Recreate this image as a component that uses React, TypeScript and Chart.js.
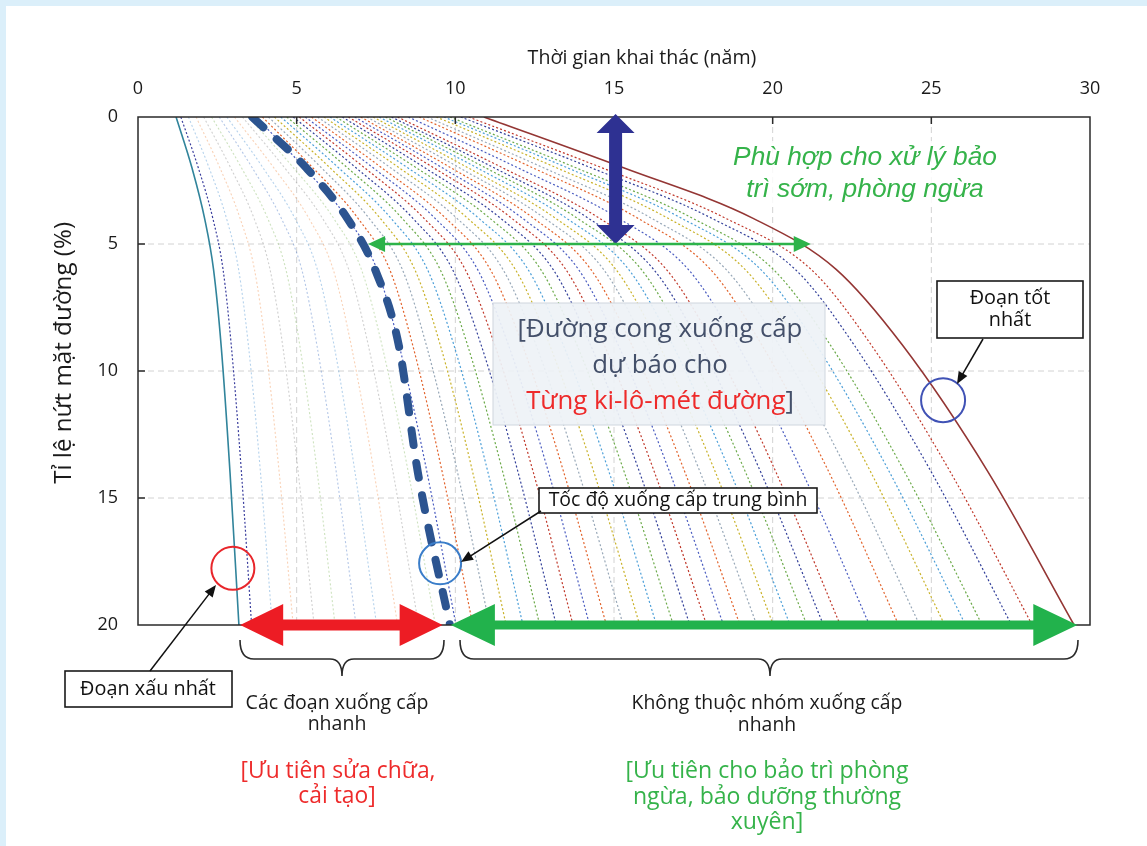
import React, { useEffect, useRef } from 'react';
import { Chart, registerables } from 'chart.js';

Chart.register(...registerables);

// Crack ratio levels (%) at which each road section's age (years) is read
const crackLevels = [0, 2, 4, 6, 9, 14, 20];
const yearTicks = [0, 5, 10, 15, 20, 25, 30];
const crackTicks = [0, 5, 10, 15, 20];

const worstSection = [1.2, 1.7, 2.1, 2.38, 2.62, 2.9, 3.18];
const nearWorstSection = [1.35, 1.9, 2.36, 2.68, 2.94, 3.26, 3.58];
const averageCurve = [3.6, 5.3, 6.6, 7.47, 8.22, 8.82, 9.83];
const bestSection = [10.9, 15.3, 19.4, 22.0, 24.1, 26.8, 29.5];

const fastSections = [
  [1.59, 2.24, 2.79, 3.17, 3.48, 3.86, 4.23],
  [1.83, 2.58, 3.22, 3.67, 4.02, 4.45, 4.89],
  [2.07, 2.92, 3.66, 4.16, 4.56, 5.05, 5.55],
  [2.32, 3.26, 4.09, 4.66, 5.1, 5.65, 6.21],
  [2.56, 3.6, 4.52, 5.16, 5.64, 6.25, 6.87],
  [2.8, 3.94, 4.95, 5.65, 6.18, 6.84, 7.52],
  [3.04, 4.28, 5.39, 6.15, 6.72, 7.44, 8.18],
  [3.29, 4.62, 5.82, 6.64, 7.26, 8.04, 8.84],
  [3.48, 4.9, 6.17, 7.04, 7.69, 8.52, 9.37],
];

const otherSections = [
  [3.72, 5.24, 6.6, 7.53, 8.23, 9.11, 10.02],
  [3.92, 5.51, 6.94, 7.93, 8.66, 9.59, 10.55],
  [4.11, 5.78, 7.29, 8.33, 9.09, 10.07, 11.08],
  [4.3, 6.05, 7.64, 8.72, 9.53, 10.55, 11.6],
  [4.5, 6.32, 7.98, 9.12, 9.96, 11.03, 12.13],
  [4.69, 6.6, 8.33, 9.52, 10.39, 11.5, 12.66],
  [4.89, 6.87, 8.67, 9.91, 10.82, 11.98, 13.18],
  [5.08, 7.14, 9.02, 10.31, 11.25, 12.46, 13.71],
  [5.27, 7.41, 9.37, 10.7, 11.68, 12.94, 14.23],
  [5.47, 7.68, 9.71, 11.1, 12.12, 13.42, 14.76],
  [5.66, 7.96, 10.06, 11.5, 12.55, 13.89, 15.29],
  [5.86, 8.23, 10.4, 11.89, 12.98, 14.37, 15.81],
  [6.05, 8.5, 10.75, 12.29, 13.41, 14.85, 16.34],
  [6.24, 8.77, 11.1, 12.69, 13.84, 15.33, 16.87],
  [6.44, 9.04, 11.44, 13.08, 14.27, 15.81, 17.39],
  [6.63, 9.32, 11.79, 13.48, 14.7, 16.28, 17.92],
  [6.83, 9.59, 12.13, 13.88, 15.14, 16.76, 18.45],
  [7.02, 9.86, 12.48, 14.27, 15.57, 17.24, 18.97],
  [7.21, 10.13, 12.83, 14.67, 16.0, 17.72, 19.5],
  [7.41, 10.4, 13.17, 15.06, 16.43, 18.2, 20.02],
  [7.6, 10.68, 13.52, 15.46, 16.86, 18.67, 20.55],
  [7.8, 10.95, 13.86, 15.86, 17.29, 19.15, 21.08],
  [7.99, 11.22, 14.21, 16.25, 17.73, 19.63, 21.6],
  [8.18, 11.49, 14.56, 16.65, 18.16, 20.11, 22.13],
  [8.52, 11.97, 15.16, 17.34, 18.91, 20.94, 23.05],
  [8.86, 12.44, 15.77, 18.04, 19.67, 21.78, 23.97],
  [9.11, 12.78, 16.2, 18.53, 20.21, 22.38, 24.63],
  [9.4, 13.19, 16.72, 19.13, 20.86, 23.1, 25.42],
  [9.64, 13.53, 17.15, 19.62, 21.39, 23.69, 26.08],
  [9.83, 13.8, 17.5, 20.02, 21.83, 24.17, 26.6],
  [10.17, 14.28, 18.1, 20.71, 22.58, 25.01, 27.53],
  [10.42, 14.62, 18.54, 21.21, 23.12, 25.61, 28.18],
];

const palette = ['#4a5cc0', '#e2632c', '#98a8b8', '#c9b22a', '#4c9fd8', '#6caa4a', '#33409a', '#c0392b'];
const fadedPalette = [
  'rgba(91,155,213,0.45)',
  'rgba(237,125,49,0.35)',
  'rgba(150,150,150,0.45)',
  'rgba(112,173,71,0.35)',
  'rgba(68,114,196,0.4)',
];

const SANS = '"Open Sans", "Noto Sans", sans-serif';
const ITAL = '"Liberation Sans", Arial, sans-serif';

function fitSize(ctx: CanvasRenderingContext2D, text: string, width: number, family: string, style = '') {
  ctx.font = `${style} 20px ${family}`;
  return (20 * width) / ctx.measureText(text).width;
}

function drawText(
  ctx: CanvasRenderingContext2D,
  text: string,
  x: number,
  y: number,
  size: number,
  family: string,
  color: string,
  style = '',
  align: CanvasTextAlign = 'center'
) {
  ctx.font = `${style} ${size}px ${family}`;
  ctx.fillStyle = color;
  ctx.textAlign = align;
  ctx.textBaseline = 'middle';
  ctx.fillText(text, x, y);
}

function lineArrow(
  ctx: CanvasRenderingContext2D,
  x1: number,
  y1: number,
  x2: number,
  y2: number,
  color: string,
  lw: number,
  len: number,
  half: number,
  both = false
) {
  const a = Math.atan2(y2 - y1, x2 - x1);
  const c = Math.cos(a);
  const s = Math.sin(a);
  ctx.setLineDash([]);
  ctx.strokeStyle = color;
  ctx.fillStyle = color;
  ctx.lineWidth = lw;
  ctx.beginPath();
  ctx.moveTo(both ? x1 + c * len * 0.8 : x1, both ? y1 + s * len * 0.8 : y1);
  ctx.lineTo(x2 - c * len * 0.8, y2 - s * len * 0.8);
  ctx.stroke();
  const head = (tx: number, ty: number, dc: number, ds: number) => {
    ctx.beginPath();
    ctx.moveTo(tx, ty);
    ctx.lineTo(tx - dc * len - ds * half, ty - ds * len + dc * half);
    ctx.lineTo(tx - dc * len + ds * half, ty - ds * len - dc * half);
    ctx.closePath();
    ctx.fill();
  };
  head(x2, y2, c, s);
  if (both) head(x1, y1, -c, -s);
}

function fatArrowH(ctx: CanvasRenderingContext2D, xL: number, xR: number, y: number, hl: number, hh: number, sh: number, color: string) {
  ctx.fillStyle = color;
  ctx.beginPath();
  ctx.moveTo(xL, y);
  ctx.lineTo(xL + hl, y - hh);
  ctx.lineTo(xL + hl, y - sh);
  ctx.lineTo(xR - hl, y - sh);
  ctx.lineTo(xR - hl, y - hh);
  ctx.lineTo(xR, y);
  ctx.lineTo(xR - hl, y + hh);
  ctx.lineTo(xR - hl, y + sh);
  ctx.lineTo(xL + hl, y + sh);
  ctx.lineTo(xL + hl, y + hh);
  ctx.closePath();
  ctx.fill();
}

function fatArrowV(ctx: CanvasRenderingContext2D, x: number, yT: number, yB: number, hl: number, hh: number, sh: number, color: string) {
  ctx.fillStyle = color;
  ctx.beginPath();
  ctx.moveTo(x, yT);
  ctx.lineTo(x + hh, yT + hl);
  ctx.lineTo(x + sh, yT + hl);
  ctx.lineTo(x + sh, yB - hl);
  ctx.lineTo(x + hh, yB - hl);
  ctx.lineTo(x, yB);
  ctx.lineTo(x - hh, yB - hl);
  ctx.lineTo(x - sh, yB - hl);
  ctx.lineTo(x - sh, yT + hl);
  ctx.lineTo(x - hh, yT + hl);
  ctx.closePath();
  ctx.fill();
}

function brace(ctx: CanvasRenderingContext2D, x1: number, x2: number, cx: number, yTop: number, yMid: number, yTip: number) {
  ctx.setLineDash([]);
  ctx.strokeStyle = '#2a2a2a';
  ctx.lineWidth = 1.6;
  ctx.beginPath();
  ctx.moveTo(x1, yTop);
  ctx.quadraticCurveTo(x1, yMid, x1 + 14, yMid);
  ctx.lineTo(cx - 12, yMid);
  ctx.quadraticCurveTo(cx, yMid, cx, yTip);
  ctx.quadraticCurveTo(cx, yMid, cx + 12, yMid);
  ctx.lineTo(x2 - 14, yMid);
  ctx.quadraticCurveTo(x2, yMid, x2, yTop);
  ctx.stroke();
}

function circle(ctx: CanvasRenderingContext2D, x: number, y: number, r: number, color: string) {
  ctx.setLineDash([]);
  ctx.strokeStyle = color;
  ctx.lineWidth = 2;
  ctx.beginPath();
  ctx.arc(x, y, r, 0, Math.PI * 2);
  ctx.stroke();
}

function box(ctx: CanvasRenderingContext2D, x: number, y: number, w: number, h: number) {
  ctx.setLineDash([]);
  ctx.fillStyle = '#ffffff';
  ctx.fillRect(x, y, w, h);
  ctx.strokeStyle = '#1a1a1a';
  ctx.lineWidth = 1.6;
  ctx.strokeRect(x, y, w, h);
}

const overlay = {
  id: 'overlay',
  beforeDatasetsDraw(chart: any) {
    const ctx: CanvasRenderingContext2D = chart.ctx;
    const xs = chart.scales.x;
    const ys = chart.scales.y;
    const { left, right, top, bottom } = chart.chartArea;
    ctx.save();
    ctx.strokeStyle = '#d2d2d2';
    ctx.lineWidth = 1;
    ctx.setLineDash([6, 4]);
    ctx.beginPath();
    yearTicks.slice(1, -1).forEach((v) => {
      const x = xs.getPixelForValue(v);
      ctx.moveTo(x, top);
      ctx.lineTo(x, bottom);
    });
    crackTicks.slice(1, -1).forEach((v) => {
      const y = ys.getPixelForValue(v);
      ctx.moveTo(left, y);
      ctx.lineTo(right, y);
    });
    ctx.stroke();
    ctx.restore();
  },
  afterDraw(chart: any) {
    const ctx: CanvasRenderingContext2D = chart.ctx;
    const xs = chart.scales.x;
    const ys = chart.scales.y;
    const X = (v: number) => xs.getPixelForValue(v);
    const Y = (v: number) => ys.getPixelForValue(v);
    const { left, right, top, bottom } = chart.chartArea;
    ctx.save();

    // frame and inner tick marks
    ctx.setLineDash([]);
    ctx.strokeStyle = '#2a2a2a';
    ctx.lineWidth = 1.5;
    ctx.strokeRect(left, top, right - left, bottom - top);
    ctx.beginPath();
    yearTicks.slice(1, -1).forEach((v) => {
      ctx.moveTo(X(v), top);
      ctx.lineTo(X(v), top + 7);
    });
    crackTicks.slice(1, -1).forEach((v) => {
      ctx.moveTo(left, Y(v));
      ctx.lineTo(left + 7, Y(v));
    });
    ctx.stroke();

    // axis titles
    const xTitle = 'Thời gian khai thác (năm)';
    const tSize = fitSize(ctx, xTitle, 229, SANS);
    drawText(ctx, xTitle, 642, 58, tSize, SANS, '#1a1a1a');
    const yTitle = 'Tỉ lệ nứt mặt đường (%)';
    const ySize = fitSize(ctx, yTitle, 262, SANS);
    ctx.save();
    ctx.translate(64, 222);
    ctx.rotate(-Math.PI / 2);
    drawText(ctx, yTitle, 0, 0, ySize, SANS, '#1a1a1a', '', 'right');
    ctx.restore();

    // green italic note
    ctx.fillStyle = 'rgba(255,255,255,0.85)';
    ctx.fillRect(730, 141, 272, 66);
    const gSize = fitSize(ctx, 'Phù hợp cho xử lý bảo', 264, ITAL, 'italic');
    drawText(ctx, 'Phù hợp cho xử lý bảo', 865, 158, gSize, ITAL, '#35b34a', 'italic');
    drawText(ctx, 'trì sớm, phòng ngừa', 865, 190, gSize, ITAL, '#35b34a', 'italic');

    // central label box
    ctx.fillStyle = 'rgba(238,242,246,0.93)';
    ctx.fillRect(493, 303, 332, 122);
    ctx.strokeStyle = '#cfd6de';
    ctx.lineWidth = 1;
    ctx.strokeRect(493, 303, 332, 122);
    const bSize = fitSize(ctx, '[Đường cong xuống cấp', 285, SANS);
    drawText(ctx, '[Đường cong xuống cấp', 660, 330, bSize, SANS, '#44506a');
    drawText(ctx, 'dự báo cho', 660, 366, bSize, SANS, '#44506a');
    ctx.font = `${bSize}px ${SANS}`;
    const redPart = 'Từng ki-lô-mét đường';
    const w1 = ctx.measureText(redPart).width;
    const w2 = ctx.measureText(']').width;
    const sx = 660 - (w1 + w2) / 2;
    drawText(ctx, redPart, sx, 402, bSize, SANS, '#ee2a2a', '', 'left');
    drawText(ctx, ']', sx + w1, 402, bSize, SANS, '#44506a', '', 'left');

    // blue vertical arrow
    fatArrowV(ctx, X(15.05), Y(0) - 3, Y(5), 19, 19, 6.5, '#2e3192');
    // green thin double arrow at 5%
    lineArrow(ctx, X(7.25), Y(5), X(21.2), Y(5), '#2db34a', 2.5, 17, 8, true);

    // big arrows along 20%
    fatArrowH(ctx, X(3.22), X(9.6), Y(20), 43, 21, 5.5, '#ed1c24');
    fatArrowH(ctx, X(9.86), X(29.6), Y(20), 44, 21, 4.5, '#22b24c');

    // braces
    brace(ctx, 240, 444, 342, 640, 659, 676);
    brace(ctx, 460, 1078, 770, 640, 659, 676);

    // circles
    circle(ctx, X(2.99), Y(17.77), 21.5, '#e8262b');
    circle(ctx, X(9.52), Y(17.57), 21, '#3a7dc9');
    circle(ctx, X(25.37), Y(11.15), 22, '#4052b5');

    // callouts
    box(ctx, 539, 488, 278, 25);
    const cSize = fitSize(ctx, 'Tốc độ xuống cấp trung bình', 259, SANS);
    drawText(ctx, 'Tốc độ xuống cấp trung bình', 678, 500.5, cSize, SANS, '#111');
    lineArrow(ctx, 541, 511, 461, 562, '#111', 1.5, 12, 5);

    box(ctx, 937, 281, 146, 57);
    drawText(ctx, 'Đoạn tốt', 1010, 298, cSize * 1.02, SANS, '#111');
    drawText(ctx, 'nhất', 1010, 320, cSize * 1.02, SANS, '#111');
    lineArrow(ctx, 983, 339, 957, 384, '#111', 1.5, 12, 5);

    box(ctx, 65, 671, 167, 36);
    drawText(ctx, 'Đoạn xấu nhất', 148, 689, cSize * 1.02, SANS, '#111');
    lineArrow(ctx, 150, 671, 216, 585, '#111', 1.5, 12, 5);

    // bottom explanations
    const lSize = fitSize(ctx, 'Các đoạn xuống cấp', 183, SANS);
    drawText(ctx, 'Các đoạn xuống cấp', 337, 703, lSize, SANS, '#1a1a1a');
    drawText(ctx, 'nhanh', 337, 724, lSize, SANS, '#1a1a1a');
    const rSize = fitSize(ctx, '[Ưu tiên sửa chữa,', 195, SANS);
    drawText(ctx, '[Ưu tiên sửa chữa,', 338, 771, rSize, SANS, '#ee2b2b');
    drawText(ctx, 'cải tạo]', 337, 796, rSize, SANS, '#ee2b2b');

    const kSize = fitSize(ctx, 'Không thuộc nhóm xuống cấp', 271, SANS);
    drawText(ctx, 'Không thuộc nhóm xuống cấp', 767, 703, kSize, SANS, '#1a1a1a');
    drawText(ctx, 'nhanh', 767, 725, kSize, SANS, '#1a1a1a');
    const pSize = fitSize(ctx, '[Ưu tiên cho bảo trì phòng', 283, SANS);
    drawText(ctx, '[Ưu tiên cho bảo trì phòng', 767, 771, pSize, SANS, '#35b34a');
    drawText(ctx, 'ngừa, bảo dưỡng thường', 767, 797, pSize, SANS, '#35b34a');
    drawText(ctx, 'xuyên]', 767, 822, pSize, SANS, '#35b34a');

    ctx.restore();
  },
};

export default function App() {
  const ref = useRef<HTMLCanvasElement>(null);

  useEffect(() => {
    const canvas = ref.current;
    if (!canvas) return;
    const toPts = (arr: number[]) => arr.map((x, i) => ({ x, y: crackLevels[i] }));
    const base = {
      pointRadius: 0,
      fill: false,
      cubicInterpolationMode: 'monotone' as const,
    };
    const datasets: any[] = [];
    datasets.push({
      ...base,
      data: toPts(averageCurve),
      borderColor: '#2c5490',
      borderWidth: 8,
      borderDash: [15, 18],
      borderCapStyle: 'round',
    });
    datasets.push({ ...base, data: toPts(bestSection), borderColor: '#943634', borderWidth: 1.6 });
    datasets.push({ ...base, data: toPts(worstSection), borderColor: '#31849b', borderWidth: 1.6 });
    datasets.push({
      ...base,
      data: toPts(nearWorstSection),
      borderColor: '#3b3f9e',
      borderWidth: 1.2,
      borderDash: [2, 2],
    });
    otherSections.forEach((s, i) => {
      datasets.push({
        ...base,
        data: toPts(s),
        borderColor: palette[i % palette.length],
        borderWidth: 1.2,
        borderDash: [2, 2.2],
      });
    });
    fastSections.forEach((s, i) => {
      datasets.push({
        ...base,
        data: toPts(s),
        borderColor: fadedPalette[i % fadedPalette.length],
        borderWidth: 1.1,
        borderDash: [2, 2.2],
      });
    });

    const chart = new Chart(canvas, {
      type: 'line',
      data: { datasets },
      options: {
        animation: false,
        responsive: false,
        events: [],
        layout: { padding: { left: 0, top: 0, right: 57, bottom: 221 } },
        plugins: { legend: { display: false }, tooltip: { enabled: false } },
        scales: {
          x: {
            type: 'linear',
            position: 'top',
            min: 0,
            max: 30,
            afterFit: (s: any) => {
              s.height = 117;
            },
            ticks: {
              stepSize: 5,
              padding: 17,
              color: '#1a1a1a',
              font: { family: SANS, size: 18 },
            },
            grid: { display: false, drawTicks: false },
            border: { display: false },
          },
          y: {
            type: 'linear',
            reverse: true,
            min: 0,
            max: 20,
            afterFit: (s: any) => {
              s.width = 138;
            },
            ticks: {
              stepSize: 5,
              padding: 20,
              color: '#1a1a1a',
              font: { family: SANS, size: 18 },
            },
            grid: { display: false, drawTicks: false },
            border: { display: false },
          },
        },
      } as any,
      plugins: [overlay],
    });
    return () => chart.destroy();
  }, []);

  return (
    <div style={{ position: 'absolute', left: 0, top: 0, width: 1147, height: 846, background: '#dbeffa', overflow: 'hidden' }}>
      <div style={{ position: 'absolute', left: 6, top: 6, right: 0, bottom: 0, background: '#ffffff' }} />
      <canvas ref={ref} width={1147} height={846} style={{ position: 'absolute', left: 0, top: 0 }} />
    </div>
  );
}
